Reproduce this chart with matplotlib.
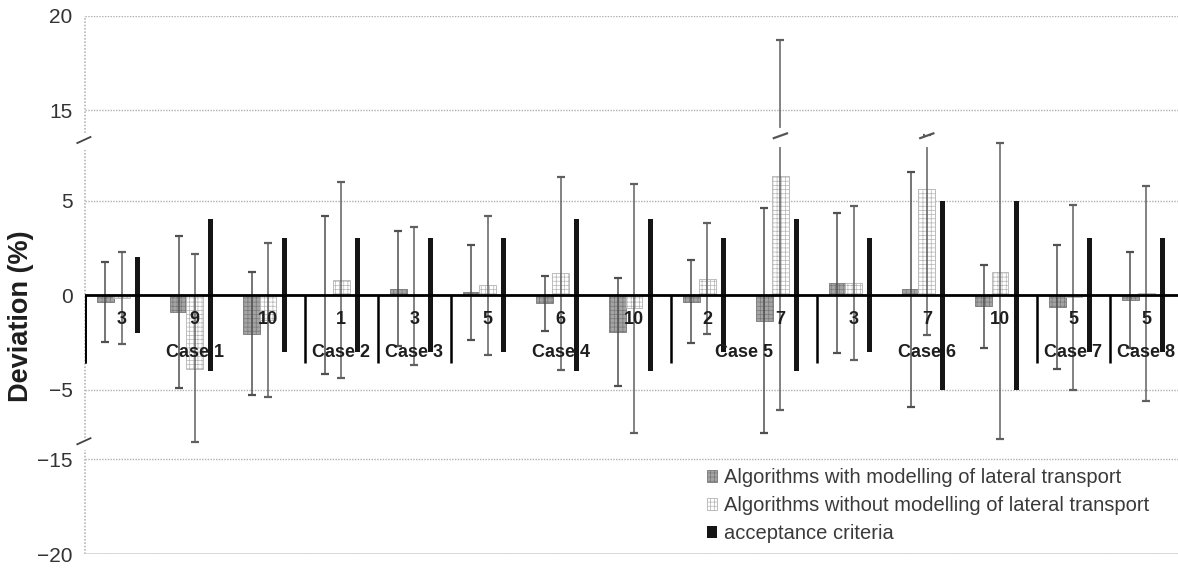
import numpy as np
import matplotlib
matplotlib.use('Agg')
import matplotlib.pyplot as plt

plt.rcParams['font.family'] = ['Liberation Sans', 'DejaVu Sans']
plt.rcParams['hatch.linewidth'] = 0.5

# ---- data ----
case_names = ['Case 1', 'Case 2', 'Case 3', 'Case 4', 'Case 5', 'Case 6', 'Case 7', 'Case 8']
case_sizes = [3, 1, 1, 3, 2, 3, 1, 1]
group_labels = ['3', '9', '10', '1', '3', '5', '6', '10', '2', '7', '3', '7', '10', '5', '5']

with_val = [-0.35, -0.88, -2.03, 0.0, 0.35, 0.15, -0.44, -1.94, -0.35, -1.36, 0.62, 0.30, -0.58, -0.62, -0.25]
with_err = [2.1, 4.02, 3.24, 4.19, 3.05, 2.5, 1.45, 2.84, 2.2, 5.95, 3.7, 6.2, 2.2, 3.29, 2.55]
without_val = [-0.15, -3.88, -1.3, 0.79, -0.05, 0.53, 1.15, -0.7, 0.88, 6.31, 0.65, 5.61, 1.23, -0.1, 0.1]
without_err = [2.45, 6.05, 4.08, 5.17, 3.64, 3.68, 5.1, 6.6, 2.95, 12.4, 4.08, 7.69, 9.08, 4.89, 5.67]
accept = [2, 4, 3, 3, 3, 3, 4, 4, 3, 4, 3, 5, 5, 3, 3]

yticks = [20, 15, 5, 0, -5, -15, -20]

# ---- broken axis as a piecewise linear scale ----
knot_y = [-100, -14.52, -7.55, 7.65, 13.78, 100]
knot_f = [-100 + 6.32, -14.52 + 6.32, -7.55, 7.65, 13.78 - 5.23, 100 - 5.23]


def fwd(y):
    return np.interp(y, knot_y, knot_f)


def inv(f):
    return np.interp(f, knot_f, knot_y)


x = np.arange(len(group_labels))
off = 0.22
bw = 0.23

fig = plt.figure(figsize=(11.78, 5.68), dpi=100)
ax = fig.add_axes([85 / 1178, 1 - 554 / 568, 1098 / 1178, 538.3 / 568])
ax.set_yscale('function', functions=(fwd, inv))

ax.bar(x - off, with_val, bw, color='#a4a4a4', edgecolor='#787878', hatch='++++',
       linewidth=0.6, zorder=2, label='Algorithms with modelling of lateral transport')
ax.bar(x, without_val, bw, color='white', edgecolor='#b4b4b4', hatch='++++',
       linewidth=0.6, zorder=2, label='Algorithms without modelling of lateral transport')
acc = np.array(accept)
ax.bar(x + off, 2 * acc, 0.068, bottom=-acc, color='#151515', zorder=2,
       label='acceptance criteria')

ax.errorbar(x - off, with_val, yerr=with_err, fmt='none', ecolor='#505050',
            elinewidth=1.1, capsize=2.6, capthick=1.6, zorder=4)
ax.errorbar(x, without_val, yerr=without_err, fmt='none', ecolor='#606060',
            elinewidth=1.1, capsize=2.6, capthick=1.6, zorder=4)

ax.axhline(0, color='black', lw=2, zorder=5)

# case separators
bounds = np.concatenate([[0], np.cumsum(case_sizes)]) - 0.5
ax.vlines(bounds[:-1], -3.6, 0, color='black', lw=1.8, zorder=5)

# labels under the axis
for xi, lab in zip(x, group_labels):
    ax.text(xi, -1.3, lab, ha='center', va='center', fontsize=13,
            fontweight='bold', color='#1e1e1e', zorder=6)
for i, name in enumerate(case_names):
    cx = (bounds[i] + bounds[i + 1]) / 2
    ax.text(cx, -3.05, name, ha='center', va='center', fontsize=13,
            fontweight='bold', color='#1e1e1e', zorder=6)

# break marks on the long error bars
for xi, v, e in zip(x, without_val, without_err):
    if v + e > 12:
        ax.plot([xi, xi], [inv(7.95), inv(8.72)], color='white', lw=3, zorder=4.5)
        ax.plot([xi - 0.09, xi + 0.09], [inv(8.3), inv(8.55)], color='#555555',
                lw=1.6, zorder=4.6)

ax.set_xlim(-0.5, len(group_labels) - 0.5)
ax.set_ylim(-20, 20)
ax.set_xticks([])
ax.set_yticks(yticks)
ax.tick_params(axis='y', length=0, pad=9, labelsize=15, labelcolor='#333333')
ax.grid(axis='y', color='#b0b0b0', linestyle=(0, (1, 1)), lw=1, zorder=0)
for s in ax.spines.values():
    s.set_visible(False)

# left axis drawn in pieces with break marks
yax = ax.get_yaxis_transform()
for lo, hi in [(13.78, 20), (-7.55, 7.65), (-20, -14.52)]:
    ax.plot([0, 0], [lo, hi], transform=yax, color='#b8b8b8',
            linestyle=(0, (1, 1)), lw=1.2, clip_on=False, zorder=1)
for fc in [8.2, -7.72]:
    ax.plot([-0.007, 0.005], [inv(fc - 0.16), inv(fc + 0.16)], transform=yax,
            color='#444444', lw=1.3, clip_on=False, zorder=6)
ax.vlines(-0.5, -3.6, 0, color='black', lw=2, zorder=5)
ax.axhline(-20, color='#d8d8d8', lw=1.2, zorder=1)

ax.set_ylabel('Deviation (%)', fontsize=19.5, fontweight='bold', color='#1e1e1e')
ax.yaxis.set_label_coords(-0.046, 0.442)

ax.legend(loc='upper left', bbox_to_anchor=(707 / 1178, 1 - 468 / 568),
          bbox_transform=fig.transFigure, frameon=False, fontsize=14.5,
          handlelength=0.5, handleheight=0.5, handletextpad=0.35,
          labelspacing=0.45, borderpad=0, borderaxespad=0, labelcolor='#3a3a3a')

fig.savefig('out.png', dpi=100)
